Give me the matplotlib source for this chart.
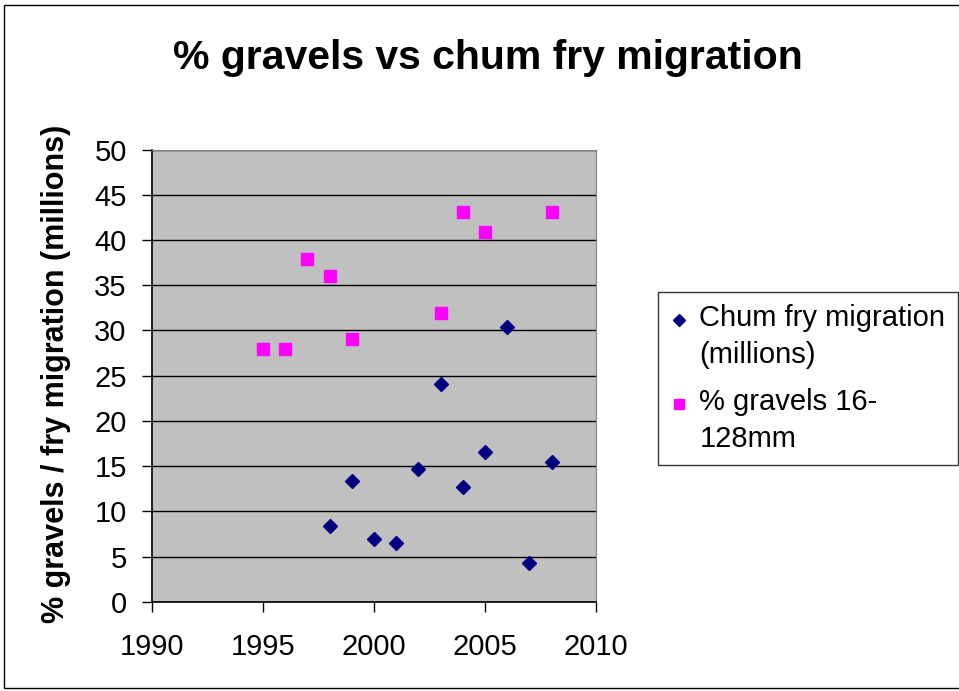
import matplotlib
matplotlib.use("Agg")
import matplotlib.pyplot as plt
from matplotlib.patches import Rectangle
from matplotlib.transforms import Affine2D

plt.rcParams['font.family'] = ['Liberation Sans', 'DejaVu Sans']

chum_years = [1998, 1999, 2000, 2001, 2002, 2003, 2004, 2005, 2006, 2007, 2008]
chum_values = [8.4, 13.4, 6.9, 6.5, 14.7, 24.1, 12.7, 16.6, 30.4, 4.3, 15.5]
gravel_years = [1995, 1996, 1997, 1998, 1999, 2003, 2004, 2005, 2008]
gravel_values = [28.0, 28.0, 37.9, 36.0, 29.1, 31.9, 43.1, 40.9, 43.1]

x_ticks = [1990, 1995, 2000, 2005, 2010]
y_ticks = [0, 5, 10, 15, 20, 25, 30, 35, 40, 45, 50]

fig = plt.figure(figsize=(9.59, 6.91), dpi=100)
fig.patches.append(Rectangle((0.004, 0.004), 1.2, 0.989, transform=fig.transFigure,
                             fill=False, edgecolor='black', linewidth=1.0))

ax = fig.add_axes([0.1585, 0.1292, 0.463, 0.6542])
ax.set_facecolor('#C0C0C0')
ax.set_xlim(1990, 2010)
ax.set_ylim(0, 50)
ax.set_xticks(x_ticks)
ax.set_yticks(y_ticks)
ax.grid(axis='y', color='black', linewidth=1.0)
ax.set_axisbelow(True)

ax.plot(chum_years, chum_values, linestyle='none', marker='D', markersize=7.3,
        color='#000080', markeredgecolor='#000080', label='Chum fry migration\n(millions)', zorder=3)
ax.plot(gravel_years, gravel_values, linestyle='none', marker='s', markersize=9.2,
        color='#FF00FF', markeredgecolor='#FF00FF', label='% gravels 16-\n128mm', zorder=3)

for s in ['top', 'right']:
    ax.spines[s].set_color('#808080')
for s in ['left', 'bottom']:
    ax.spines[s].set_color('black')
    ax.spines[s].set_linewidth(1.2)

ax.tick_params(axis='both', direction='out', length=7.2, width=1, labelsize=21, colors='black')
ax.tick_params(axis='x', pad=15)
ax.tick_params(axis='y', pad=11)

ax.set_ylabel('% gravels / fry migration (millions)', fontsize=22, fontweight='bold')
ax.yaxis.set_label_coords(-0.183, 0.505)

fig.text(0.509, 0.916, '% gravels vs chum fry migration', ha='center', va='center',
         fontsize=29.5, fontweight='bold')

leg = ax.legend(loc='upper left', bbox_to_anchor=(0.686, 0.5774), bbox_transform=fig.transFigure,
                fontsize=21, frameon=True, fancybox=False, edgecolor='black',
                handlelength=0.6, handletextpad=0.4, borderpad=0.42, labelspacing=0.68,
                markerscale=0.85, borderaxespad=0)
leg.get_frame().set_linewidth(1.0)
for t in leg.get_texts():
    t.set_linespacing(1.38)
for h in leg.legend_handles:
    h.set_transform(h.get_transform() + Affine2D().translate(0, 17))

fig.savefig('out.png', dpi=100)
